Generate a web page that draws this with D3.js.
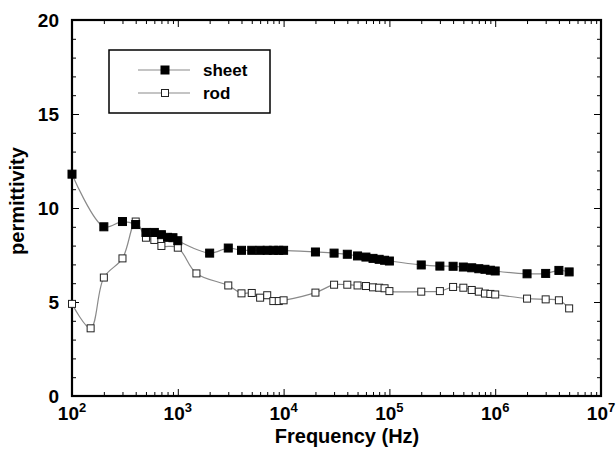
<!DOCTYPE html>
<html>
<head>
<meta charset="utf-8">
<script src="https://cdn.jsdelivr.net/npm/d3@7"></script>
<style>
  body { margin: 0; background: #fff; }
  text { font-family: "Liberation Sans", Arial, sans-serif; font-weight: bold; }
</style>
</head>
<body>
<div class="canvas"></div>
<script>
// data
const sheetFreq = [100, 200, 300, 400, 500, 600, 700, 800, 900, 1000,
    2000, 3000, 4000, 5000, 6000, 7000, 8000, 9000, 10000,
    20000, 30000, 40000, 50000, 60000, 70000, 80000, 90000, 100000,
    200000, 300000, 400000, 500000, 600000, 700000, 800000, 900000, 1e6,
    2e6, 3e6, 4e6, 5e6];
const sheetVal = [11.8, 9.0, 9.28, 9.12, 8.7, 8.7, 8.58, 8.44, 8.42, 8.26,
    7.6, 7.87, 7.75, 7.75, 7.75, 7.75, 7.75, 7.75, 7.75,
    7.66, 7.6, 7.54, 7.45, 7.39, 7.32, 7.27, 7.22, 7.18,
    6.97, 6.91, 6.9, 6.86, 6.82, 6.77, 6.74, 6.69, 6.65,
    6.5, 6.52, 6.68, 6.6];

const rodFreq = [100, 150, 200, 300, 400, 500, 600, 700, 1000, 1500, 3000,
    4000, 5000, 6000, 7000, 8000, 9000, 10000,
    20000, 30000, 40000, 50000, 60000, 70000, 80000, 90000, 100000,
    200000, 300000, 400000, 500000, 600000, 700000, 800000, 900000, 1e6,
    2e6, 3e6, 4e6, 5e6];
const rodVal = [4.9, 3.6, 6.3, 7.32, 9.28, 8.42, 8.3, 7.98, 7.89, 6.52, 5.88,
    5.46, 5.48, 5.23, 5.36, 5.05, 5.05, 5.09,
    5.5, 5.92, 5.92, 5.88, 5.85, 5.78, 5.76, 5.73, 5.58,
    5.55, 5.58, 5.8, 5.76, 5.64, 5.55, 5.45, 5.43, 5.4,
    5.18, 5.14, 5.09, 4.66];

const xMajor = [2, 3, 4, 5, 6, 7];   // exponents
const yMajor = [0, 5, 10, 15, 20];

const dims = { width: 616, height: 452, left: 72, right: 601, top: 20, bottom: 396 };

const svg = d3.select('.canvas')
    .append('svg')
    .attr('width', dims.width)
    .attr('height', dims.height);

const x = d3.scaleLog().domain([1e2, 1e7]).range([dims.left, dims.right]);
const y = d3.scaleLinear().domain([0, 20]).range([dims.bottom, dims.top]);

// minor tick values
const xMinor = [];
for (let e = 2; e < 7; e++) {
    for (let m = 2; m <= 9; m++) xMinor.push(m * Math.pow(10, e));
}
const yMinor = d3.range(0, 21).filter(v => v % 5 !== 0);

const tickAxis = (axisFn, scale, values, size, tx, ty) => {
    const g = svg.append('g')
        .attr('transform', `translate(${tx}, ${ty})`)
        .call(axisFn(scale).tickValues(values).tickSize(size).tickFormat(''));
    g.select('.domain').remove();
    g.selectAll('line').attr('stroke', '#000').attr('stroke-width', 1);
    return g;
};

// ticks pointing inward on all four sides
tickAxis(d3.axisBottom, x, xMajor.map(e => Math.pow(10, e)), -7, 0, dims.bottom);
tickAxis(d3.axisBottom, x, xMinor, -4, 0, dims.bottom);
tickAxis(d3.axisTop, x, xMajor.map(e => Math.pow(10, e)), -7, 0, dims.top);
tickAxis(d3.axisTop, x, xMinor, -4, 0, dims.top);
tickAxis(d3.axisLeft, y, yMajor, -7, dims.left, 0);
tickAxis(d3.axisLeft, y, yMinor, -4, dims.left, 0);
tickAxis(d3.axisRight, y, yMajor, -7, dims.right, 0);
tickAxis(d3.axisRight, y, yMinor, -4, dims.right, 0);

// frame
svg.append('rect')
    .attr('x', dims.left)
    .attr('y', dims.top)
    .attr('width', dims.right - dims.left)
    .attr('height', dims.bottom - dims.top)
    .attr('fill', 'none')
    .attr('stroke', '#000')
    .attr('stroke-width', 2.2);

// y tick labels
svg.selectAll('.ylab')
    .data(yMajor)
    .enter()
    .append('text')
    .attr('x', dims.left - 13)
    .attr('y', d => y(d) + 6.5)
    .attr('text-anchor', 'end')
    .attr('font-size', 19)
    .text(d => d);

// x tick labels 10^n
const xl = svg.selectAll('.xlab')
    .data(xMajor)
    .enter()
    .append('text')
    .attr('x', d => x(Math.pow(10, d)))
    .attr('y', 420)
    .attr('text-anchor', 'middle')
    .attr('font-size', 19);
xl.append('tspan').text('10');
xl.append('tspan').attr('dy', -8).attr('font-size', 13).text(d => d);

// axis titles
svg.append('text')
    .attr('x', 347)
    .attr('y', 443)
    .attr('text-anchor', 'middle')
    .attr('font-size', 20)
    .text('Frequency (Hz)');

svg.append('text')
    .attr('transform', `translate(24, 201) rotate(-90)`)
    .attr('text-anchor', 'middle')
    .attr('font-size', 20)
    .text('permittivity');

// series
const line = d3.line()
    .x(d => x(d.f))
    .y(d => y(d.v))
    .curve(d3.curveCatmullRom.alpha(0.5));

const sheet = sheetFreq.map((f, i) => ({ f, v: sheetVal[i] }));
const rod = rodFreq.map((f, i) => ({ f, v: rodVal[i] }));

const series = [
    { name: 'sheet', data: sheet, fill: '#000', stroke: '#000', size: 8 },
    { name: 'rod', data: rod, fill: '#fff', stroke: '#222', size: 7 }
];

// draw rod first so sheet sits on top
[series[1], series[0]].forEach(s => {
    svg.append('path')
        .datum(s.data)
        .attr('d', line)
        .attr('fill', 'none')
        .attr('stroke', '#8a8a8a')
        .attr('stroke-width', 1.2);
});
[series[1], series[0]].forEach(s => {
    svg.append('g')
        .selectAll('rect')
        .data(s.data)
        .enter()
        .append('rect')
        .attr('x', d => x(d.f) - s.size / 2)
        .attr('y', d => y(d.v) - s.size / 2)
        .attr('width', s.size)
        .attr('height', s.size)
        .attr('fill', s.fill)
        .attr('stroke', s.stroke)
        .attr('stroke-width', 1);
});

// legend
const legendGroup = svg.append('g');
legendGroup.append('rect')
    .attr('x', 109)
    .attr('y', 50)
    .attr('width', 161)
    .attr('height', 63)
    .attr('fill', '#fff')
    .attr('stroke', '#000')
    .attr('stroke-width', 1.5);

series.forEach((s, i) => {
    const ly = 70 + i * 23;
    legendGroup.append('line')
        .attr('x1', 138).attr('x2', 190)
        .attr('y1', ly).attr('y2', ly)
        .attr('stroke', '#8a8a8a')
        .attr('stroke-width', 1.2);
    legendGroup.append('rect')
        .attr('x', 165 - s.size / 2)
        .attr('y', ly - s.size / 2)
        .attr('width', s.size)
        .attr('height', s.size)
        .attr('fill', s.fill)
        .attr('stroke', s.stroke);
    legendGroup.append('text')
        .attr('x', 203)
        .attr('y', ly + 6)
        .attr('font-size', 17)
        .text(s.name);
});
</script>
</body>
</html>
